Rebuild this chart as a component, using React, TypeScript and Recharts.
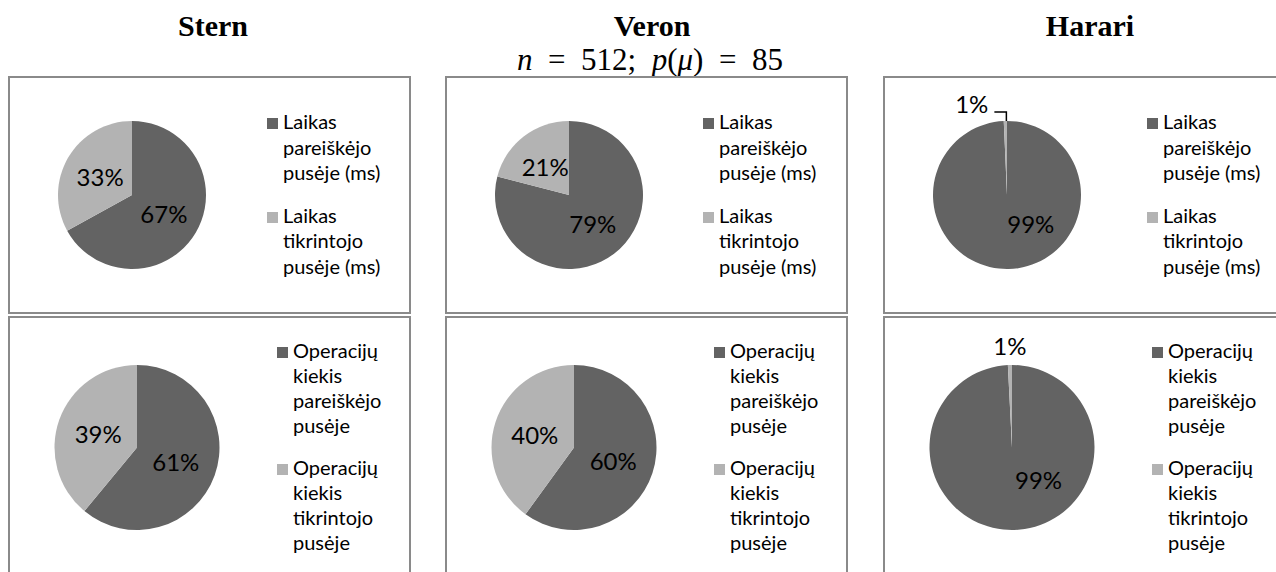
import React from 'react';
import { PieChart, Pie, Legend } from 'recharts';

// column titles
const columns = ['Stern', 'Veron', 'Harari'];

// legend names
const timeNames = ['Laikas pareiškėjo pusėje (ms)', 'Laikas tikrintojo pusėje (ms)'];
const opsNames = ['Operacijų kiekis pareiškėjo pusėje', 'Operacijų kiekis tikrintojo pusėje'];

// shares (%), top row = time, bottom row = operations
const sternTime = [67, 33];
const veronTime = [79, 21];
const harariTime = [99.3, 0.7];
const sternOps = [61, 39];
const veronOps = [60, 40];
const harariOps = [99.2, 0.8];

const sliceColors = ['#636363', '#b3b3b3'];
const RADIAN = Math.PI / 180;

const toData = (names: string[], values: number[]) =>
  names.map((name, i) => ({ name, value: values[i], fill: sliceColors[i] }));

type Small = 'leader' | 'plain';

const makeLabel = (small: Small) => (props: any) => {
  const { cx, cy, midAngle, outerRadius, percent, index } = props;
  const text = `${Math.round(percent * 100)}%`;
  if (percent < 0.05) {
    const px = cx + outerRadius * Math.cos(-midAngle * RADIAN);
    const py = cy + outerRadius * Math.sin(-midAngle * RADIAN);
    if (small === 'leader') {
      return (
        <g key={`l-${index}`}>
          <path d={`M${px + 1},${py} V${py - 9} H${px - 11}`} stroke="#000" strokeWidth={1.5} fill="none" />
          <text x={px - 17} y={py - 8} textAnchor="end" fontFamily="Lato" fontSize={24} fill="#000">
            {text}
          </text>
        </g>
      );
    }
    return (
      <text key={`l-${index}`} x={px} y={py - 10} textAnchor="middle" fontFamily="Lato" fontSize={24} fill="#000">
        {text}
      </text>
    );
  }
  // keep labels away from the narrow top/bottom of the pie (best fit)
  let dx = Math.cos(-midAngle * RADIAN);
  let dy = Math.sin(-midAngle * RADIAN);
  const lim = Math.sin(50 * RADIAN);
  if (Math.abs(dy) > lim) {
    dy = Math.sign(dy) * lim;
    dx = (dx < 0 ? -1 : 1) * Math.cos(50 * RADIAN);
  }
  const d = outerRadius * 0.5;
  return (
    <text
      key={`l-${index}`}
      x={cx + dx * d}
      y={cy + dy * d}
      textAnchor="middle"
      dominantBaseline="central"
      fontFamily="Lato"
      fontSize={24}
      fill="#000"
    >
      {text}
    </text>
  );
};

const LegendList = ({ payload, lineHeight, gap }: any) => (
  <div>
    {(payload || []).map((entry: any, i: number) => (
      <div key={i} style={{ display: 'flex', alignItems: 'flex-start', marginTop: i ? gap : 0 }}>
        <span
          style={{
            width: 11,
            height: 11,
            background: entry.color || sliceColors[i],
            marginTop: 9,
            flex: 'none',
          }}
        />
        <span
          style={{
            marginLeft: 5,
            width: 114,
            fontFamily: 'Lato',
            fontSize: 20,
            lineHeight: `${lineHeight}px`,
            color: '#000',
          }}
        >
          {entry.value}
        </span>
      </div>
    ))}
  </div>
);

interface PanelProps {
  left: number;
  top: number;
  height: number;
  data: { name: string; value: number; fill: string }[];
  cx: number;
  cy: number;
  r: number;
  legendLeft: number;
  legendTop: number;
  lineHeight: number;
  gap: number;
  small: Small;
}

const PiePanel: React.FC<PanelProps> = (p) => (
  <div
    style={{
      position: 'absolute',
      left: p.left,
      top: p.top,
      width: 403,
      height: p.height,
      border: '2px solid #8a8a8a',
      boxSizing: 'border-box',
      background: '#fff',
    }}
  >
    <PieChart width={399} height={p.height - 4} margin={{ top: 0, right: 0, bottom: 0, left: 0 }}>
      <Pie
        data={p.data}
        dataKey="value"
        nameKey="name"
        cx={p.cx}
        cy={p.cy}
        outerRadius={p.r}
        startAngle={90}
        endAngle={-270}
        stroke="none"
        label={makeLabel(p.small)}
        labelLine={false}
        isAnimationActive={false}
      />
      <Legend
        layout="vertical"
        align="right"
        verticalAlign="top"
        wrapperStyle={{ left: p.legendLeft, top: p.legendTop, width: 140 }}
        content={(lp: any) => <LegendList payload={lp.payload} lineHeight={p.lineHeight} gap={p.gap} />}
      />
    </PieChart>
  </div>
);

const colLeft = [8, 445, 883];
const titleX = [213, 652, 1090];
const topLegendLeft = [257, 256, 262];

export default function App() {
  const topData = [toData(timeNames, sternTime), toData(timeNames, veronTime), toData(timeNames, harariTime)];
  const botData = [toData(opsNames, sternOps), toData(opsNames, veronOps), toData(opsNames, harariOps)];
  return (
    <div
      style={{
        position: 'fixed',
        left: 0,
        top: 0,
        width: 1276,
        height: 572,
        overflow: 'hidden',
        background: '#fff',
      }}
    >
      <svg width={1276} height={80} style={{ position: 'absolute', left: 0, top: 0 }}>
        {columns.map((c, i) => (
          <text
            key={c}
            x={titleX[i]}
            y={36}
            textAnchor="middle"
            fontFamily="Liberation Serif"
            fontWeight="bold"
            fontSize={30}
            fill="#000"
          >
            {c}
          </text>
        ))}
        <text x={650} y={70} textAnchor="middle" fontFamily="Liberation Serif" fontSize={31} fill="#000">
          <tspan fontStyle="italic">n</tspan>
          {'\u00A0\u00A0=\u00A0\u00A0512;\u00A0\u00A0'}
          <tspan fontStyle="italic">p</tspan>(<tspan fontStyle="italic">μ</tspan>)
          {'\u00A0\u00A0=\u00A0\u00A085'}
        </text>
      </svg>
      {columns.map((c, i) => (
        <PiePanel
          key={`t-${c}`}
          left={colLeft[i]}
          top={76}
          height={238}
          data={topData[i]}
          cx={122}
          cy={117}
          r={74}
          legendLeft={topLegendLeft[i]}
          legendTop={31}
          lineHeight={25.5}
          gap={17}
          small="leader"
        />
      ))}
      {columns.map((c, i) => (
        <PiePanel
          key={`b-${c}`}
          left={colLeft[i]}
          top={316}
          height={270}
          data={botData[i]}
          cx={127}
          cy={129.5}
          r={82.5}
          legendLeft={267}
          legendTop={20}
          lineHeight={25}
          gap={17}
          small="plain"
        />
      ))}
    </div>
  );
}
